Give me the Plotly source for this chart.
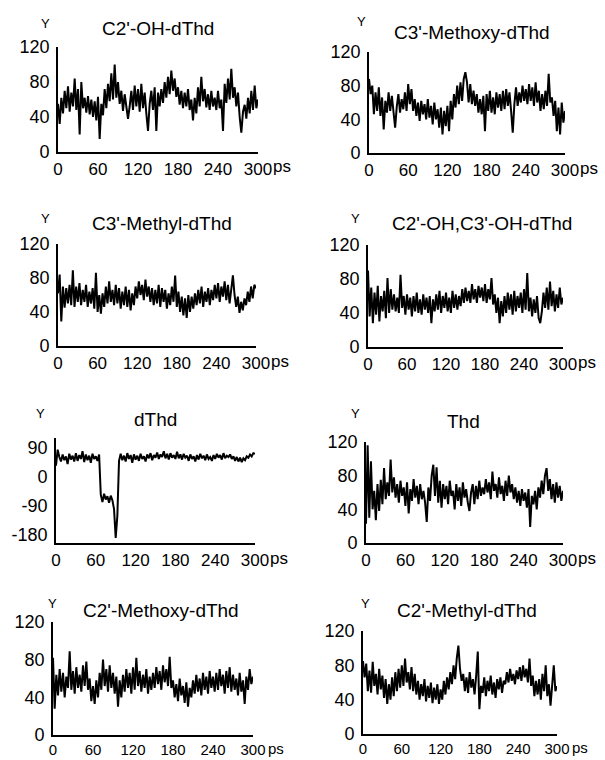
import plotly.graph_objects as go

W, H = 605, 760

time_ps = [i * 2.5 for i in range(121)]

c2oh_dthd = [
    55, 32, 62, 44, 70, 50, 75, 46, 68, 52, 84, 48,
    72, 20, 80, 50, 62, 45, 64, 43, 60, 40, 58, 36,
    63, 15, 55, 42, 72, 50, 78, 58, 90, 60, 100, 62,
    80, 55, 70, 47, 66, 48, 38, 52, 70, 48, 76, 52,
    72, 46, 78, 50, 68, 44, 24, 55, 70, 48, 74, 24,
    68, 52, 72, 56, 80, 62, 86, 66, 93, 70, 84, 63,
    74, 54, 70, 50, 68, 52, 72, 48, 60, 36, 62, 44,
    74, 52, 86, 58, 72, 51, 66, 48, 70, 52, 62, 48,
    70, 50, 60, 24, 78, 56, 84, 60, 95, 62, 74, 52,
    68, 40, 22, 46, 54, 38, 62, 44, 70, 48, 76, 50,
    60]

c3methoxy_dthd = [
    88, 70, 80, 46, 72, 50, 78, 44, 66, 28, 62, 48,
    72, 50, 68, 46, 30, 55, 70, 48, 64, 52, 72, 50,
    82, 58, 76, 50, 64, 44, 60, 38, 62, 46, 58, 40,
    64, 42, 56, 34, 60, 40, 52, 30, 54, 22, 50, 32,
    56, 26, 62, 40, 70, 54, 80, 58, 84, 62, 88, 96,
    84, 60, 82, 58, 74, 56, 70, 48, 64, 46, 68, 26,
    70, 50, 74, 48, 66, 46, 72, 54, 70, 50, 74, 52,
    76, 56, 72, 50, 24, 58, 78, 56, 72, 60, 80, 62,
    76, 58, 82, 62, 78, 56, 84, 60, 74, 50, 70, 52,
    74, 56, 94, 60, 66, 44, 62, 26, 54, 22, 60, 36,
    50]

c3methyl_dthd = [
    62, 84, 29, 70, 45, 68, 50, 72, 48, 89, 46, 70,
    52, 74, 48, 66, 52, 72, 46, 64, 50, 68, 44, 86,
    40, 60, 38, 62, 46, 70, 50, 76, 52, 66, 48, 72,
    50, 68, 44, 64, 48, 70, 46, 66, 42, 62, 48, 70,
    56, 76, 60, 72, 54, 78, 58, 70, 52, 68, 48, 66,
    50, 72, 46, 68, 52, 66, 44, 62, 48, 70, 52, 83,
    46, 64, 40, 58, 36, 56, 33, 60, 40, 58, 44, 62,
    48, 66, 50, 70, 46, 64, 52, 68, 48, 66, 54, 72,
    56, 74, 52, 70, 58, 76, 54, 72, 50, 68, 83, 60,
    46, 58, 39, 52, 42, 56, 48, 64, 52, 70, 56, 72,
    68]

c2oh_c3oh_dthd = [
    90, 36, 70, 28, 64, 38, 72, 30, 60, 42, 66, 34,
    81, 40, 68, 44, 62, 42, 58, 40, 85, 46, 60, 38,
    62, 44, 58, 36, 60, 42, 64, 40, 56, 38, 62, 44,
    58, 40, 60, 28, 56, 42, 62, 44, 66, 40, 60, 46,
    64, 42, 58, 40, 66, 46, 62, 44, 60, 48, 68, 52,
    70, 54, 66, 52, 74, 56, 68, 52, 72, 58, 70, 54,
    74, 52, 68, 56, 81, 50, 62, 40, 58, 28, 54, 36,
    60, 40, 64, 44, 62, 38, 66, 42, 60, 46, 64, 40,
    68, 44, 87, 42, 58, 36, 56, 40, 60, 34, 28, 42,
    64, 46, 70, 44, 77, 48, 66, 42, 62, 46, 70, 50,
    58]

dthd = [
    35, 85, 62, 48, 70, 52, 64, 40, 72, 54, 66, 48,
    74, 50, 68, 56, 80, 46, 70, 52, 66, 44, 72, 56,
    64, 50, 70, -55, -78, -52, -70, -60, -80, -58, -72, -100,
    -189, -120, 50, 72, 52, 66, 48, 74, 56, 68, 44, 70,
    54, 66, 50, 72, 56, 64, 48, 70, 58, 74, 52, 68,
    60, 76, 56, 70, 62, 80, 58, 72, 54, 74, 60, 68,
    56, 78, 58, 70, 54, 72, 60, 66, 50, 70, 56, 64,
    48, 68, 54, 72, 58, 66, 52, 70, 56, 62, 50, 68,
    56, 72, 60, 68, 54, 74, 58, 66, 62, 70, 56, 64,
    50, 62, 48, 60, 46, 58, 52, 64, 60, 70, 64, 74,
    72]

thd = [
    23, 116, 30, 97, 40, 62, 27, 70, 38, 75, 46, 89,
    52, 72, 56, 99, 60, 78, 54, 70, 48, 74, 56, 66,
    44, 72, 35, 64, 50, 76, 54, 68, 46, 70, 52, 62,
    48, 25, 66, 50, 80, 93, 56, 90, 48, 74, 42, 70,
    52, 68, 46, 74, 56, 62, 40, 70, 50, 66, 44, 72,
    54, 64, 48, 38, 60, 70, 46, 68, 52, 74, 56, 66,
    58, 76, 60, 72, 52, 85, 62, 70, 54, 78, 58, 68,
    50, 74, 56, 80, 60, 70, 52, 66, 48, 62, 44, 64,
    50, 60, 42, 64, 19, 56, 46, 62, 40, 66, 54, 74,
    58, 80, 89, 62, 76, 52, 70, 48, 72, 54, 68, 50,
    62]

c2methoxy_dthd = [
    82, 28, 64, 42, 70, 46, 66, 40, 62, 50, 89, 48,
    68, 44, 72, 50, 64, 46, 74, 52, 78, 48, 60, 36,
    52, 33, 58, 40, 66, 48, 80, 52, 70, 46, 74, 50,
    66, 44, 62, 30, 58, 40, 64, 46, 70, 50, 66, 44,
    72, 48, 82, 52, 68, 46, 64, 50, 70, 44, 62, 48,
    66, 50, 72, 54, 68, 48, 74, 56, 70, 52, 83, 50,
    58, 40, 54, 36, 60, 42, 52, 34, 56, 30, 50, 40,
    58, 44, 64, 46, 60, 42, 66, 48, 62, 44, 68, 50,
    62, 46, 66, 48, 70, 52, 64, 44, 68, 50, 72, 46,
    64, 48, 60, 42, 66, 46, 58, 33, 62, 48, 70, 54,
    62]

c2methyl_dthd = [
    85, 66, 82, 50, 74, 48, 84, 56, 70, 46, 76, 52,
    68, 42, 64, 35, 58, 40, 66, 44, 72, 50, 76, 54,
    80, 56, 88, 60, 72, 52, 78, 50, 70, 46, 62, 40,
    58, 44, 64, 38, 56, 42, 60, 36, 54, 40, 58, 35,
    52, 40, 62, 46, 66, 52, 72, 58, 80, 64, 88, 103,
    76, 62, 70, 50, 66, 48, 72, 54, 64, 46, 68, 96,
    29, 56, 48, 66, 44, 62, 50, 68, 46, 60, 42, 64,
    52, 66, 48, 62, 58, 72, 60, 76, 62, 70, 58, 74,
    64, 78, 62, 80, 66, 76, 60, 88, 56, 68, 44, 62,
    46, 64, 40, 70, 50, 80, 44, 58, 33, 62, 80, 50,
    56]

titles = ["C2'-OH-dThd", "C3'-Methoxy-dThd", "C3'-Methyl-dThd", "C2'-OH,C3'-OH-dThd",
          "dThd", "Thd", "C2'-Methoxy-dThd", "C2'-Methyl-dThd"]
series = [c2oh_dthd, c3methoxy_dthd, c3methyl_dthd, c2oh_c3oh_dthd,
          dthd, thd, c2methoxy_dthd, c2methyl_dthd]
x_ticks = [0, 60, 120, 180, 240, 300]
y_ticks_std = [0, 40, 80, 120]
y_ticks_dthd = [-180, -90, 0, 90]

# layout in pixels: (x0, x1, ytop, ybottom, yrange)
panels = [
    (58, 258, 47, 152, [0, 120]),
    (369, 565, 52, 153, [0, 120]),
    (58, 256, 244, 346, [0, 120]),
    (368, 563, 245, 347, [0, 120]),
    (56, 255, 438, 543, [-205, 121]),
    (366, 563, 442, 543, [0, 120]),
    (53, 253, 622, 735, [0, 120]),
    (363, 557, 631, 734, [0, 120]),
]
title_pos = [(158, 28), (472, 32), (162, 223), (482, 223), (155, 419), (463, 422), (161, 610), (467, 610)]
ylab_pos = [(46, 23), (361, 22), (45, 218), (355, 218), (40, 413), (355, 413), (52, 603), (365, 603)]

fig = go.Figure()
layout = dict(width=W, height=H, margin=dict(l=0, r=0, t=0, b=0, pad=0, autoexpand=False),
              paper_bgcolor="white", plot_bgcolor="white", showlegend=False,
              font=dict(family="Liberation Sans, Arial, sans-serif", color="black"))
annotations = []

def fx(p):
    return p / W

def fy(p):
    return 1 - p / H

XFONT = "Liberation Sans Narrow, Arial Narrow, Liberation Sans, sans-serif"

for i, (vals, (x0, x1, yt, yb, yr)) in enumerate(zip(series, panels)):
    n = i + 1
    xa = "x" if n == 1 else f"x{n}"
    ya = "y" if n == 1 else f"y{n}"
    fig.add_trace(go.Scatter(x=time_ps, y=vals, mode="lines",
                             line=dict(color="black", width=2.0),
                             xaxis=xa, yaxis=ya, hoverinfo="skip"))
    yt_vals = y_ticks_dthd if i == 4 else y_ticks_std
    bottom_row = i >= 6
    xsize = 15 if bottom_row else 17
    layout["xaxis" if n == 1 else f"xaxis{n}"] = dict(
        domain=[fx(x0), fx(x1)], range=[0, 300], anchor=ya, automargin=False,
        showline=True, linecolor="black", linewidth=1.6, showgrid=False, zeroline=False,
        ticks="", tickvals=x_ticks, ticktext=[str(v) for v in x_ticks],
        tickfont=dict(size=xsize, color="black", family=XFONT),
        ticklabelstandoff=0 if bottom_row else 1)
    layout["yaxis" if n == 1 else f"yaxis{n}"] = dict(
        domain=[fy(yb), fy(yt)], range=yr, anchor=xa, automargin=False,
        showline=True, linecolor="black", linewidth=1.6, showgrid=False, zeroline=False,
        ticks="", tickvals=yt_vals, ticktext=[str(v) for v in yt_vals],
        tickfont=dict(size=18, color="black"), ticklabelstandoff=3)
    tx, ty = title_pos[i]
    annotations.append(dict(text=titles[i], x=fx(tx), y=fy(ty), xref="paper", yref="paper",
                            showarrow=False, xanchor="center", yanchor="middle",
                            font=dict(size=19, color="black")))
    lx, ly = ylab_pos[i]
    annotations.append(dict(text="Y", x=fx(lx), y=fy(ly), xref="paper", yref="paper",
                            showarrow=False, xanchor="center", yanchor="middle",
                            font=dict(size=13, color="black")))
    annotations.append(dict(text="ps", x=fx(x1 + 13), y=fy(yb + (13 if bottom_row else 15)),
                            xref="paper", yref="paper",
                            showarrow=False, xanchor="left", yanchor="middle",
                            font=dict(size=xsize, color="black", family=XFONT)))

layout["annotations"] = annotations
fig.update_layout(**layout)
fig.write_html("out.html", config={"responsive": False, "displayModeBar": False},
               post_script="document.body.style.margin='0';document.body.style.padding='0';"
                           "document.documentElement.style.overflow='hidden';")
